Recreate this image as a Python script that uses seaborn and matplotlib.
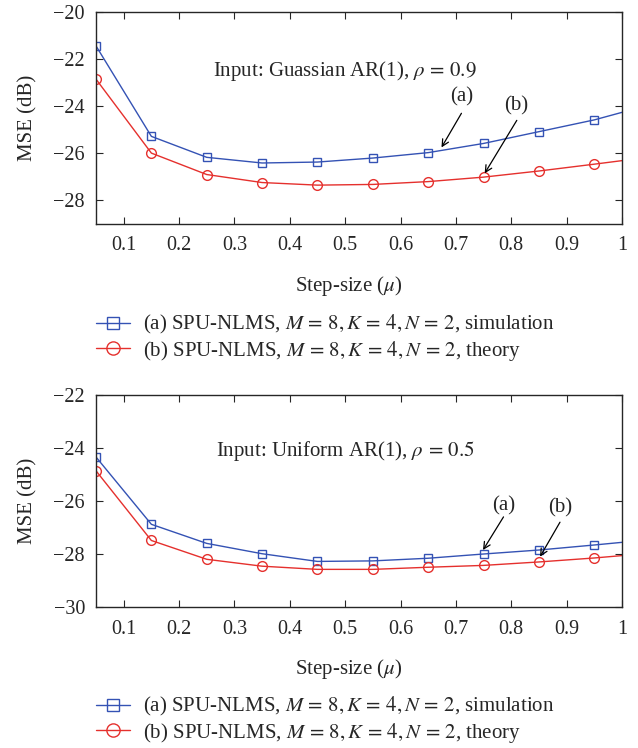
import numpy as np
import pandas as pd
import seaborn as sns
import matplotlib
matplotlib.use("Agg")
import matplotlib.pyplot as plt

# ---- data ----
step_size = [0.05, 0.15, 0.25, 0.35, 0.45, 0.55, 0.65, 0.75, 0.85, 0.95, 1.05]
top_sim = [-21.44, -25.28, -26.17, -26.41, -26.37, -26.20, -25.97, -25.58, -25.08, -24.58, -23.94]
top_theory = [-22.85, -25.99, -26.90, -27.24, -27.35, -27.32, -27.20, -27.01, -26.75, -26.46, -26.16]
bot_sim = [-24.34, -26.88, -27.60, -27.99, -28.28, -28.26, -28.16, -28.00, -27.85, -27.66, -27.46]
bot_theory = [-24.86, -27.49, -28.20, -28.46, -28.58, -28.58, -28.50, -28.43, -28.30, -28.15, -27.97]
x_ticks = [0.1, 0.2, 0.3, 0.4, 0.5, 0.6, 0.7, 0.8, 0.9, 1.0]
x_ticklabels = ["0.1", "0.2", "0.3", "0.4", "0.5", "0.6", "0.7", "0.8", "0.9", "1"]
top_yticks = [-28, -26, -24, -22, -20]
bot_yticks = [-30, -28, -26, -24, -22]
label_sim = r"(a) SPU-NLMS, $M\,=\,8, K\,=\,4, N\,=\,2$, simulation"
label_theory = r"(b) SPU-NLMS, $M\,=\,8, K\,=\,4, N\,=\,2$, theory"
top_title = r"Input: Guassian AR(1), $\rho\,=\,0.9$"
bot_title = r"Input: Uniform AR(1), $\rho\,=\,0.5$"

sns.set_style("ticks")
plt.rcParams["font.family"] = ["Liberation Serif", "DejaVu Serif"]
plt.rcParams["mathtext.fontset"] = "stix"
plt.rcParams["xtick.direction"] = "in"
plt.rcParams["ytick.direction"] = "in"
plt.rcParams["axes.linewidth"] = 1.0

BLUE = "#3452b4"
RED = "#e5302d"
FS = 15
TFS = 14.5

fig = plt.figure(figsize=(6.38, 7.48), dpi=100)
W, H = 638, 748


def make_axes(top_px, bottom_px):
    return fig.add_axes([96 / W, 1 - bottom_px / H, 526 / W, (bottom_px - top_px) / H])


def draw(ax, sim, theory, ylim, yticks, title, title_xy, anns):
    df = pd.DataFrame({
        "mu": step_size * 2,
        "mse": sim + theory,
        "series": [label_sim] * len(sim) + [label_theory] * len(theory),
    })
    sns.lineplot(data=df, x="mu", y="mse", hue="series", style="series",
                 palette=[BLUE, RED], markers=["s", "o"], dashes=False,
                 markersize=6.5, markerfacecolor="none", markeredgewidth=1.0,
                 linewidth=1.0, ax=ax, legend=False)
    for line, c in zip(ax.get_lines(), [BLUE, RED]):
        line.set_markeredgecolor(c)
        line.set_markerfacecolor("none")
    ax.get_lines()[0].set_markersize(6.0)
    ax.get_lines()[1].set_markersize(7.0)
    ax.set_xlim(0.05, 1.0)
    ax.set_ylim(*ylim)
    ax.set_xticks(x_ticks)
    ax.set_xticklabels(x_ticklabels)
    ax.set_yticks(yticks)
    ax.set_yticklabels([("\u2212%d" % -v) for v in yticks])
    ax.tick_params(axis="both", labelsize=TFS, length=5, width=0.8,
                   top=True, right=True)
    ax.tick_params(axis="x", pad=9)
    ax.tick_params(axis="y", pad=8)
    ax.set_xlabel(r"Step-size ($\mu$)", fontsize=FS)
    ax.xaxis.set_label_coords(0.48, -0.235)
    ax.set_ylabel("MSE (dB)", fontsize=FS)
    ax.yaxis.set_label_coords(-0.112, 0.5)
    ax.text(title_xy[0], title_xy[1], title, fontsize=FS, ha="center", va="center")
    for txt, txy, start, end in anns:
        ax.text(txy[0], txy[1], txt, fontsize=FS, ha="center", va="center")
        ax.annotate("", xy=end, xytext=start,
                    arrowprops=dict(arrowstyle="->", color="black", lw=0.9,
                                    mutation_scale=12, shrinkA=0, shrinkB=0))
    h1 = plt.Line2D([], [], color=BLUE, marker="s", markersize=8.5,
                    markerfacecolor="none", markeredgecolor=BLUE, lw=1.0)
    h2 = plt.Line2D([], [], color=RED, marker="o", markersize=9.5,
                    markerfacecolor="none", markeredgecolor=RED, lw=1.0)
    return h1, h2


ax1 = make_axes(12, 224)
h1, h2 = draw(ax1, top_sim, top_theory, (-29, -20), top_yticks, top_title, (0.5, -22.5),
              [("(a)", (0.711, -23.6), (0.71, -24.3), (0.674, -25.75)),
               ("(b)", (0.809, -24.0), (0.81, -24.6), (0.752, -26.85))])
ax2 = make_axes(395, 607)
draw(ax2, bot_sim, bot_theory, (-30, -22), bot_yticks, bot_title, (0.5, -24.1),
     [("(a)", (0.786, -26.2), (0.786, -26.6), (0.749, -27.85)),
      ("(b)", (0.888, -26.25), (0.888, -26.8), (0.852, -28.1))])

for center_row in (338, 720):
    fig.legend([h1, h2], [label_sim, label_theory], loc="center left",
               bbox_to_anchor=(96 / W, 1 - center_row / H), frameon=False,
               fontsize=FS, handlelength=1.65, handletextpad=0.6, labelspacing=0.1,
               borderpad=0, borderaxespad=0)

fig.savefig("out.png", dpi=100)
